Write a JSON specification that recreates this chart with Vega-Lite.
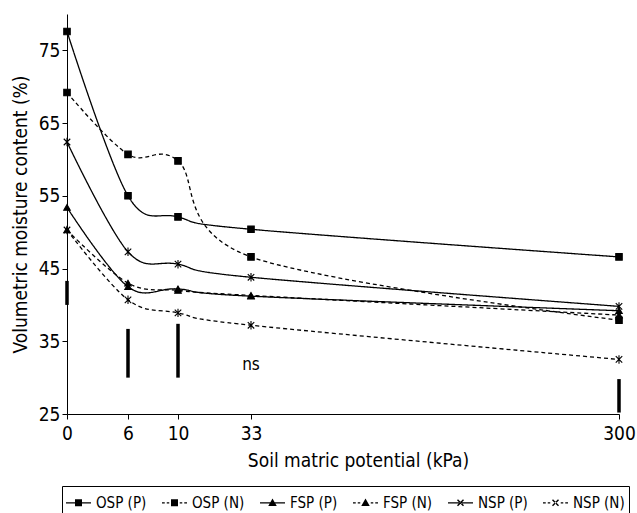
{
  "$schema": "https://vega.github.io/schema/vega-lite/v6.json",
  "width": 552,
  "height": 400,
  "autosize": {"type": "none"},
  "padding": {"left": 67, "top": 14, "right": 18, "bottom": 99},
  "config": {
    "view": {"stroke": null},
    "font": "DejaVu Sans Condensed",
    "axis": {
      "domainColor": "black",
      "tickColor": "black",
      "labelColor": "black",
      "titleColor": "black",
      "labelFont": "DejaVu Sans Condensed",
      "titleFont": "DejaVu Sans Condensed",
      "labelFontSize": 19,
      "titleFontSize": 19,
      "titleFontWeight": "normal",
      "grid": false,
      "tickSize": 5
    },
    "legend": {
      "labelFont": "DejaVu Sans Condensed",
      "labelFontSize": 15,
      "labelColor": "black"
    }
  },
  "datasets": {
    "curves": [
      {"series": "OSP (P)", "kpa": 0, "vmc": 77.6},
      {"series": "OSP (P)", "kpa": 6, "vmc": 55.0},
      {"series": "OSP (P)", "kpa": 10, "vmc": 52.1},
      {"series": "OSP (P)", "kpa": 33, "vmc": 50.4},
      {"series": "OSP (P)", "kpa": 300, "vmc": 46.6},
      {"series": "OSP (N)", "kpa": 0, "vmc": 69.2},
      {"series": "OSP (N)", "kpa": 6, "vmc": 60.7},
      {"series": "OSP (N)", "kpa": 10, "vmc": 59.8},
      {"series": "OSP (N)", "kpa": 33, "vmc": 46.6},
      {"series": "OSP (N)", "kpa": 300, "vmc": 37.9},
      {"series": "FSP (P)", "kpa": 0, "vmc": 53.4},
      {"series": "FSP (P)", "kpa": 6, "vmc": 42.5},
      {"series": "FSP (P)", "kpa": 10, "vmc": 42.2},
      {"series": "FSP (P)", "kpa": 33, "vmc": 41.2},
      {"series": "FSP (P)", "kpa": 300, "vmc": 39.2},
      {"series": "FSP (N)", "kpa": 0, "vmc": 50.3},
      {"series": "FSP (N)", "kpa": 6, "vmc": 43.0},
      {"series": "FSP (N)", "kpa": 10, "vmc": 42.0},
      {"series": "FSP (N)", "kpa": 33, "vmc": 41.3},
      {"series": "FSP (N)", "kpa": 300, "vmc": 38.6},
      {"series": "NSP (P)", "kpa": 0, "vmc": 62.4},
      {"series": "NSP (P)", "kpa": 6, "vmc": 47.3},
      {"series": "NSP (P)", "kpa": 10, "vmc": 45.6},
      {"series": "NSP (P)", "kpa": 33, "vmc": 43.8},
      {"series": "NSP (P)", "kpa": 300, "vmc": 39.8},
      {"series": "NSP (N)", "kpa": 0, "vmc": 50.3},
      {"series": "NSP (N)", "kpa": 6, "vmc": 40.7},
      {"series": "NSP (N)", "kpa": 10, "vmc": 38.9},
      {"series": "NSP (N)", "kpa": 33, "vmc": 37.2},
      {"series": "NSP (N)", "kpa": 300, "vmc": 32.5}
    ],
    "keys": [
      {"series": "OSP (P)"},
      {"series": "OSP (N)"},
      {"series": "FSP (P)"},
      {"series": "FSP (N)"},
      {"series": "NSP (P)"},
      {"series": "NSP (N)"}
    ],
    "lsd": [
      {"kpa": 0, "vmc": 40.0, "vmc2": 43.3},
      {"kpa": 6, "vmc": 30.0, "vmc2": 36.7},
      {"kpa": 10, "vmc": 30.0, "vmc2": 37.4},
      {"kpa": 300, "vmc": 25.2, "vmc2": 29.8}
    ],
    "notes": [
      {"kpa": 33, "vmc": 31.7, "label": "ns"}
    ]
  },
  "layer": [
    {
      "data": {"name": "curves"},
      "mark": {"type": "line", "interpolate": "cardinal", "color": "black", "strokeWidth": 1.3},
      "encoding": {
        "x": {
          "field": "kpa", "type": "quantitative",
          "scale": {"domain": [0, 6, 10, 33, 300], "range": [0, 61, 111, 184, 552], "nice": false, "zero": false},
          "axis": {"values": [0, 6, 10, 33, 300], "title": "Soil matric potential (kPa)", "labelPadding": 5, "titlePadding": 8, "titleX": 291, "labelFlush": false}
        },
        "y": {
          "field": "vmc", "type": "quantitative",
          "scale": {"domain": [25, 80], "nice": false, "zero": false},
          "axis": {"values": [25, 35, 45, 55, 65, 75], "title": "Volumetric moisture content (%)", "labelPadding": 2, "titlePadding": 8}
        },
        "strokeDash": {
          "field": "series", "type": "nominal",
          "scale": {
            "domain": ["OSP (P)", "OSP (N)", "FSP (P)", "FSP (N)", "NSP (P)", "NSP (N)"],
            "range": [[1, 0], [4, 3], [1, 0], [4, 3], [1, 0], [4, 3]]
          },
          "legend": null
        }
      }
    },
    {
      "data": {"name": "curves"},
      "mark": {"type": "point", "filled": true, "color": "black", "stroke": "black", "strokeWidth": 1.1, "size": 42, "opacity": 1},
      "encoding": {
        "x": {"field": "kpa", "type": "quantitative"},
        "y": {"field": "vmc", "type": "quantitative"},
        "shape": {
          "field": "series", "type": "nominal",
          "scale": {
            "domain": ["OSP (P)", "OSP (N)", "FSP (P)", "FSP (N)", "NSP (P)", "NSP (N)"],
            "range": ["square", "square", "triangle-up", "triangle-up", "M-1,-1L1,1M-1,1L1,-1M0,-1.3V1.3", "M-1,-1L1,1M-1,1L1,-1M0,-1.3V1.3"]
          },
          "legend": null
        }
      }
    },
    {
      "data": {"name": "keys"},
      "mark": {"type": "point", "filled": true, "color": "black"},
      "encoding": {
        "x": {"field": "kpa", "type": "quantitative"},
        "y": {"field": "vmc", "type": "quantitative"},
        "shape": {
          "field": "series", "type": "nominal",
          "scale": {
            "domain": ["OSP (P)", "OSP (N)", "FSP (P)", "FSP (N)", "NSP (P)", "NSP (N)"],
            "range": [
              "M-1,-0.05H1V0.05H-1ZM-0.28,-0.28H0.28V0.28H-0.28Z",
              "M-1,-0.05H-0.78V0.05H-1ZM-0.62,-0.05H-0.42V0.05H-0.62ZM0.42,-0.05H0.62V0.05H0.42ZM0.78,-0.05H1V0.05H0.78ZM-0.28,-0.28H0.28V0.28H-0.28Z",
              "M-1,-0.05H1V0.05H-1ZM0,-0.34L0.34,0.26H-0.34Z",
              "M-1,-0.05H-0.78V0.05H-1ZM-0.62,-0.05H-0.42V0.05H-0.62ZM0.42,-0.05H0.62V0.05H0.42ZM0.78,-0.05H1V0.05H0.78ZM0,-0.34L0.34,0.26H-0.34Z",
              "M-1,-0.05H1V0.05H-1ZM-0.28,-0.2L0.2,0.28L0.28,0.2L-0.2,-0.28ZM-0.28,0.2L0.2,-0.28L0.28,-0.2L-0.2,0.28Z",
              "M-1,-0.05H-0.78V0.05H-1ZM-0.62,-0.05H-0.42V0.05H-0.62ZM0.42,-0.05H0.62V0.05H0.42ZM0.78,-0.05H1V0.05H0.78ZM-0.28,-0.2L0.2,0.28L0.28,0.2L-0.2,-0.28ZM-0.28,0.2L0.2,-0.28L0.28,-0.2L-0.2,0.28Z"
            ]
          },
          "legend": {
            "title": null,
            "orient": "none",
            "legendX": -5,
            "legendY": 472,
            "direction": "horizontal",
            "columns": 6,
            "strokeColor": "black",
            "padding": 4,
            "symbolSize": 625,
            "symbolFillColor": "black",
            "symbolStrokeWidth": 0,
            "symbolOpacity": 1,
            "columnPadding": 15,
            "labelOffset": 5
          }
        }
      }
    },
    {
      "data": {"name": "lsd"},
      "mark": {"type": "rule", "color": "black", "strokeWidth": 3.5},
      "encoding": {
        "x": {"field": "kpa", "type": "quantitative"},
        "y": {"field": "vmc", "type": "quantitative"},
        "y2": {"field": "vmc2"}
      }
    },
    {
      "data": {"name": "notes"},
      "mark": {"type": "text", "fontSize": 17, "color": "black", "baseline": "middle", "align": "center"},
      "encoding": {
        "x": {"field": "kpa", "type": "quantitative"},
        "y": {"field": "vmc", "type": "quantitative"},
        "text": {"field": "label"}
      }
    }
  ],
  "resolve": {"scale": {"shape": "independent"}}
}
